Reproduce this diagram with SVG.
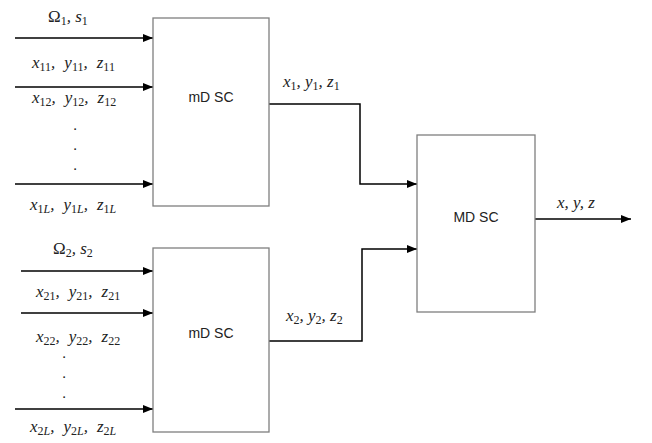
<svg xmlns="http://www.w3.org/2000/svg" width="652" height="443" viewBox="0 0 652 443">
<style>
.box{fill:#fff;stroke:#7f7f7f;stroke-width:1.3}
.ln{fill:none;stroke:#000;stroke-width:1.5}
.lbl{font-family:"Liberation Sans",Arial,sans-serif;font-size:14px;fill:#222}
.m{font-family:"Liberation Serif","Times New Roman",serif;font-size:17px;font-style:italic;fill:#222}
.s{font-size:12px;font-style:normal}
.si{font-size:12px}
.u{font-style:normal}
.dot{font-family:"Liberation Serif",serif;font-size:15px;fill:#222}
</style>
<defs>
<marker id="ah" markerWidth="10" markerHeight="8" refX="10" refY="4" orient="auto" markerUnits="userSpaceOnUse">
<path d="M0,0 L10,4 L0,8 Z" fill="#000"/>
</marker>
</defs>
<rect width="652" height="443" fill="#fff"/>
<g id="connectors">
<line class="ln" x1="15" y1="38" x2="153" y2="38" marker-end="url(#ah)"/>
<line class="ln" x1="15" y1="87" x2="153" y2="87" marker-end="url(#ah)"/>
<line class="ln" x1="15" y1="184" x2="153" y2="184" marker-end="url(#ah)"/>
<line class="ln" x1="21" y1="271" x2="153" y2="271" marker-end="url(#ah)"/>
<line class="ln" x1="21" y1="313" x2="153" y2="313" marker-end="url(#ah)"/>
<line class="ln" x1="15" y1="409" x2="153" y2="409" marker-end="url(#ah)"/>
<polyline class="ln" points="269,104 360,104 360,184 417,184" marker-end="url(#ah)"/>
<polyline class="ln" points="269,341 362,341 362,249 417,249" marker-end="url(#ah)"/>
<line class="ln" x1="535" y1="219" x2="631" y2="219" marker-end="url(#ah)"/>
</g>
<g id="node-mdsc1">
<rect class="box" x="153" y="18" width="116" height="188"/>
<text class="lbl" x="211" y="102" text-anchor="middle">mD SC</text>
</g>
<g id="node-mdsc2">
<rect class="box" x="153" y="248" width="116" height="184"/>
<text class="lbl" x="211" y="338" text-anchor="middle">mD SC</text>
</g>
<g id="node-MDSC">
<rect class="box" x="417" y="135" width="118" height="177"/>
<text class="lbl" x="476" y="222" text-anchor="middle">MD SC</text>
</g>
<g id="labels">
<text class="m" x="48" y="22"><tspan class="u">Ω</tspan><tspan class="s" dy="3">1</tspan><tspan dy="-3">, s</tspan><tspan class="s" dy="3">1</tspan></text>
<text class="m" x="32" y="68">x<tspan class="s" dy="3">11</tspan><tspan dy="-3">,</tspan><tspan dx="9">y</tspan><tspan class="s" dy="3">11</tspan><tspan dy="-3">,</tspan><tspan dx="9">z</tspan><tspan class="s" dy="3">11</tspan></text>
<text class="m" x="32" y="103">x<tspan class="s" dy="3">12</tspan><tspan dy="-3">,</tspan><tspan dx="9">y</tspan><tspan class="s" dy="3">12</tspan><tspan dy="-3">,</tspan><tspan dx="9">z</tspan><tspan class="s" dy="3">12</tspan></text>
<text class="dot" x="75" y="130" text-anchor="middle">.</text>
<text class="dot" x="75" y="150" text-anchor="middle">.</text>
<text class="dot" x="75" y="170" text-anchor="middle">.</text>
<text class="m" x="30" y="210">x<tspan class="s" dy="3">1</tspan><tspan class="si">L</tspan><tspan dy="-3">,</tspan><tspan dx="9">y</tspan><tspan class="s" dy="3">1</tspan><tspan class="si">L</tspan><tspan dy="-3">,</tspan><tspan dx="9">z</tspan><tspan class="s" dy="3">1</tspan><tspan class="si">L</tspan></text>
<text class="m" x="53" y="254"><tspan class="u">Ω</tspan><tspan class="s" dy="3">2</tspan><tspan dy="-3">, s</tspan><tspan class="s" dy="3">2</tspan></text>
<text class="m" x="36" y="297">x<tspan class="s" dy="3">21</tspan><tspan dy="-3">,</tspan><tspan dx="9">y</tspan><tspan class="s" dy="3">21</tspan><tspan dy="-3">,</tspan><tspan dx="9">z</tspan><tspan class="s" dy="3">21</tspan></text>
<text class="m" x="36" y="342">x<tspan class="s" dy="3">22</tspan><tspan dy="-3">,</tspan><tspan dx="9">y</tspan><tspan class="s" dy="3">22</tspan><tspan dy="-3">,</tspan><tspan dx="9">z</tspan><tspan class="s" dy="3">22</tspan></text>
<text class="dot" x="64" y="358" text-anchor="middle">.</text>
<text class="dot" x="64" y="378" text-anchor="middle">.</text>
<text class="dot" x="64" y="398" text-anchor="middle">.</text>
<text class="m" x="30" y="432">x<tspan class="s" dy="3">2</tspan><tspan class="si">L</tspan><tspan dy="-3">,</tspan><tspan dx="9">y</tspan><tspan class="s" dy="3">2</tspan><tspan class="si">L</tspan><tspan dy="-3">,</tspan><tspan dx="9">z</tspan><tspan class="s" dy="3">2</tspan><tspan class="si">L</tspan></text>
<text class="m" x="283" y="87">x<tspan class="s" dy="3">1</tspan><tspan dy="-3">, y</tspan><tspan class="s" dy="3">1</tspan><tspan dy="-3">, z</tspan><tspan class="s" dy="3">1</tspan></text>
<text class="m" x="286" y="321">x<tspan class="s" dy="3">2</tspan><tspan dy="-3">, y</tspan><tspan class="s" dy="3">2</tspan><tspan dy="-3">, z</tspan><tspan class="s" dy="3">2</tspan></text>
<text class="m" x="557" y="208">x, y, z</text>
</g>
</svg>
